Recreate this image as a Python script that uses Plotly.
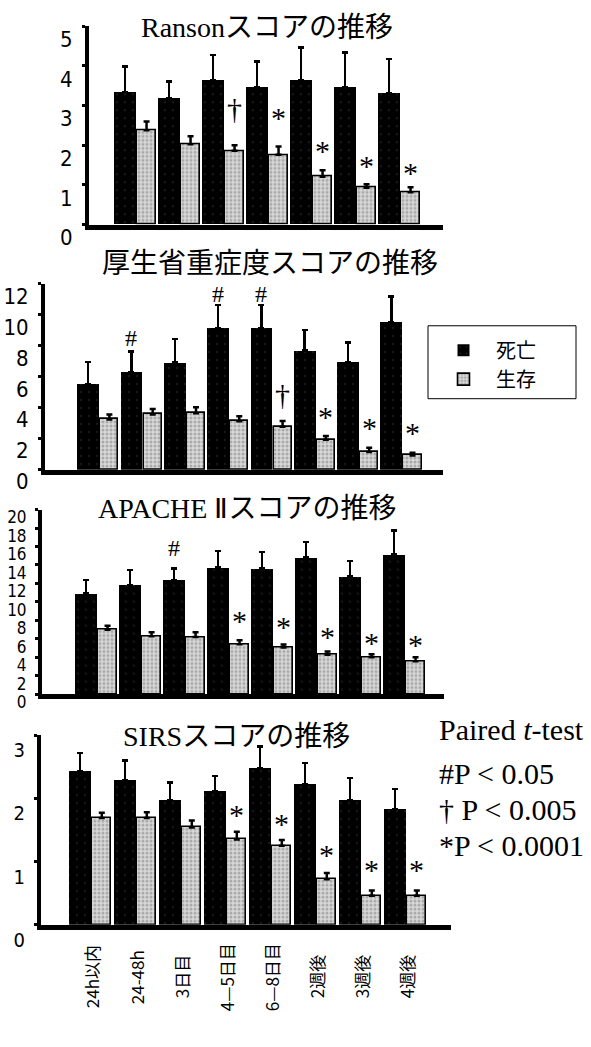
import plotly.graph_objects as go

W, H = 591, 1047

# ---------------- data ----------------
categories = ["24h以内", "24-48h", "3日目", "4—5日目", "6—8日目", "2週後", "3週後", "4週後"]

ranson_dead = [None, 3.34, 3.19, 3.64, 3.47, 3.64, 3.46, 3.31]
ranson_dead_sd = [0, 0.65, 0.42, 0.64, 0.64, 0.83, 0.88, 0.87]
ranson_surv = [None, 2.38, 2.03, 1.86, 1.76, 1.21, 0.93, 0.82]
ranson_surv_sd = [0, 0.22, 0.20, 0.14, 0.21, 0.16, 0.09, 0.12]
ranson_dead_sig = ["", "", "", "", "", "", "", ""]
ranson_dead_sig_y = [None] * 8
ranson_surv_sig = ["", "", "", "†", "*", "*", "*", "*"]
ranson_surv_sig_y = [None, None, None, 2.92, 2.87, 2.05, 1.68, 1.48]

mhlw_dead = [5.54, 6.29, 6.92, 9.13, 9.13, 7.70, 6.96, 9.52]
mhlw_dead_sd = [1.42, 1.35, 1.51, 1.51, 1.51, 1.32, 1.26, 1.68]
mhlw_surv = [3.25, 3.57, 3.65, 3.13, 2.77, 1.93, 1.15, 0.92]
mhlw_surv_sd = [0.32, 0.35, 0.38, 0.33, 0.38, 0.25, 0.26, 0.17]
mhlw_dead_sig = ["", "#", "", "#", "#", "", "", ""]
mhlw_dead_sig_y = [None, 8.54, None, 11.35, 11.35, None, None, None]
mhlw_surv_sig = ["", "", "", "", "†", "*", "*", "*"]
mhlw_surv_sig_y = [None, None, None, None, 4.87, 3.92, 3.19, 2.87]

apache_dead = [10.91, 11.85, 12.38, 13.71, 13.60, 14.83, 12.76, 15.17]
apache_dead_sd = [1.47, 1.58, 1.22, 1.81, 1.78, 1.67, 1.65, 2.56]
apache_surv = [6.99, 6.29, 6.19, 5.42, 5.07, 4.27, 4.02, 3.57]
apache_surv_sd = [0.42, 0.42, 0.52, 0.42, 0.31, 0.35, 0.32, 0.45]
apache_dead_sig = ["", "", "#", "", "", "", "", ""]
apache_dead_sig_y = [None, None, 15.8, None, None, None, None, None]
apache_surv_sig = ["", "", "", "*", "*", "*", "*", "*"]
apache_surv_sig_y = [None, None, None, 8.75, 8.06, 7.01, 6.32, 6.15]

sirs_dead = [2.43, 2.29, 1.97, 2.11, 2.48, 2.22, 1.97, 1.83]
sirs_dead_sd = [0.29, 0.31, 0.28, 0.24, 0.34, 0.34, 0.35, 0.32]
sirs_surv = [1.69, 1.69, 1.54, 1.35, 1.25, 0.72, 0.46, 0.46]
sirs_surv_sd = [0.08, 0.09, 0.11, 0.12, 0.09, 0.10, 0.08, 0.08]
sirs_dead_sig = [""] * 8
sirs_dead_sig_y = [None] * 8
sirs_surv_sig = ["", "", "", "*", "*", "*", "*", "*"]
sirs_surv_sig_y = [None, None, None, 1.86, 1.72, 1.22, 0.98, 0.98]

ranson_ticks = [0, 1, 2, 3, 4, 5]
mhlw_ticks = [0, 2, 4, 6, 8, 10, 12]
apache_ticks = [0, 2, 4, 6, 8, 10, 12, 14, 16, 18, 20]
sirs_ticks = [0, 1, 2, 3]

series_names = ["死亡", "生存"]
pvalue_lines = ["Paired <i>t</i>-test", "#P < 0.05", "† P < 0.005", "*P < 0.0001"]

titles = [
    '<span style="font-family:Liberation Serif">Ranson</span>スコアの推移',
    "厚生省重症度スコアの推移",
    '<span style="font-family:Liberation Serif">APACHE Ⅱ</span>スコアの推移',
    '<span style="font-family:Liberation Serif">SIRS</span>スコアの推移',
]

# ---------------- layout helpers ----------------
def fx(p):
    return p / W


def fy(p):
    return 1 - p / H


idx = list(range(len(categories)))

panels = [
    dict(dead=ranson_dead, dsd=ranson_dead_sd, surv=ranson_surv, ssd=ranson_surv_sd,
         dsig=ranson_dead_sig, dsy=ranson_dead_sig_y, ssig=ranson_surv_sig, ssy=ranson_surv_sig_y,
         ticks=ranson_ticks, ymax=5, xpix=(89, 443), ypix=(229, 25), c0=92, step=44,
         tfont=22, tshift=13, title_xy=(267, 24)),
    dict(dead=mhlw_dead, dsd=mhlw_dead_sd, surv=mhlw_surv, ssd=mhlw_surv_sd,
         dsig=mhlw_dead_sig, dsy=mhlw_dead_sig_y, ssig=mhlw_surv_sig, ssy=mhlw_surv_sig_y,
         ticks=mhlw_ticks, ymax=12, xpix=(45, 443), ypix=(481, 290), c0=99, step=43.3,
         tfont=22, tshift=12, title_xy=(270, 266)),
    dict(dead=apache_dead, dsd=apache_dead_sd, surv=apache_surv, ssd=apache_surv_sd,
         dsig=apache_dead_sig, dsy=apache_dead_sig_y, ssig=apache_surv_sig, ssy=apache_surv_sig_y,
         ticks=apache_ticks, ymax=20, xpix=(42, 444), ypix=(712, 522), c0=97, step=44,
         tfont=17, tshift=8, title_xy=(247, 518)),
    dict(dead=sirs_dead, dsd=sirs_dead_sd, surv=sirs_surv, ssd=sirs_surv_sd,
         dsig=sirs_dead_sig, dsy=sirs_dead_sig_y, ssig=sirs_surv_sig, ssy=sirs_surv_sig_y,
         ticks=sirs_ticks, ymax=3, xpix=(41, 451), ypix=(949, 754), c0=91, step=45,
         tfont=20, tshift=15, title_xy=(236, 753)),
]

NARROW = "Liberation Sans Narrow, DejaVu Sans Condensed, Arial Narrow, Liberation Sans"
JP = "Noto Sans CJK JP"
SERIF = "Liberation Serif"

fig = go.Figure()
annotations = []
layout_axes = {}

for k, p in enumerate(panels, start=1):
    xa = "x" if k == 1 else f"x{k}"
    ya = "y" if k == 1 else f"y{k}"
    xkey = "xaxis" if k == 1 else f"xaxis{k}"
    ykey = "yaxis" if k == 1 else f"yaxis{k}"
    x0p, x1p = p["xpix"]
    xr = [(x0p - p["c0"]) / p["step"], (x1p - p["c0"]) / p["step"]]

    fig.add_trace(go.Bar(
        x=idx, y=p["dead"], offset=-0.5, width=0.5, xaxis=xa, yaxis=ya,
        name=series_names[0], legendgroup="d", showlegend=(k == 2),
        marker=dict(color="black",
                    pattern=dict(shape=".", fgcolor="#3a3a3a", bgcolor="black", size=8, solidity=0.06),
                    line=dict(width=0)),
        error_y=dict(type="data", symmetric=False, array=p["dsd"], arrayminus=[0] * 8,
                     color="black", thickness=2.5, width=3),
    ))
    fig.add_trace(go.Bar(
        x=idx, y=p["surv"], offset=0.03, width=0.42, xaxis=xa, yaxis=ya,
        name=series_names[1], legendgroup="s", showlegend=(k == 2),
        marker=dict(color="#c0c0c0",
                    pattern=dict(shape=".", fgcolor="#7a7a7a", bgcolor="#d8d8d8", size=4, solidity=0.45),
                    line=dict(width=1.6, color="black")),
        error_y=dict(type="data", symmetric=False, array=p["ssd"], arrayminus=[0] * 8,
                     color="black", thickness=2.5, width=3),
    ))

    layout_axes[xkey] = dict(
        domain=[fx(x0p), fx(x1p)], range=xr, anchor=ya, showline=True, linewidth=5,
        linecolor="black", showticklabels=False, ticks="", showgrid=False, zeroline=False,
        fixedrange=True,
    )
    y0p, y1p = p["ypix"]
    layout_axes[ykey] = dict(
        domain=[fy(y0p), fy(y1p)], range=[0, p["ymax"]], anchor=xa, showline=True,
        linewidth=4, linecolor="black", ticks="outside", ticklen=3, tickwidth=3,
        tickcolor="black", tickmode="array", tickvals=p["ticks"],
        tickfont=dict(family=NARROW, size=p["tfont"], color="black"),
        ticklabelshift=p["tshift"], ticklabelstandoff=5,
        showgrid=False, zeroline=False, fixedrange=True,
    )

    # title
    tx, ty = p["title_xy"]
    annotations.append(dict(text=titles[k - 1], x=fx(tx), y=fy(ty), xref="paper", yref="paper",
                            xanchor="center", yanchor="middle", showarrow=False,
                            font=dict(family=JP, size=28, color="black")))

    # significance marks
    for i in idx:
        if p["dsig"][i]:
            annotations.append(dict(text=p["dsig"][i], x=i - 0.25, y=p["dsy"][i], xref=xa, yref=ya,
                                    xanchor="center", yanchor="middle", showarrow=False,
                                    font=dict(family=SERIF, size=24, color="black")))
        if p["ssig"][i]:
            sym = p["ssig"][i]
            annotations.append(dict(text=sym, x=i + 0.24, y=p["ssy"][i], xref=xa, yref=ya,
                                    xanchor="center", yanchor="middle", showarrow=False,
                                    yshift=(-7 if sym == "*" else 0),
                                    font=dict(family=SERIF, size=30, color="black")))

# category labels under the bottom panel
for i in idx:
    annotations.append(dict(text=categories[i], x=i, y=fy(1003), xref="x4", yref="paper",
                            textangle=-90, xanchor="center", yanchor="middle", showarrow=False,
                            font=dict(family=JP, size=17, color="black")))

# p-value legend text
for line, yy in zip(pvalue_lines, [748, 793, 831, 868]):
    annotations.append(dict(text=line, x=fx(437), y=fy(yy), xref="paper", yref="paper",
                            xanchor="left", yanchor="middle", showarrow=False,
                            font=dict(family=SERIF, size=30, color="black")))

# frame around the series legend
legend_frame = dict(type="rect", xref="paper", yref="paper",
                    x0=fx(428), x1=fx(576), y0=fy(408), y1=fy(333),
                    line=dict(color="black", width=1), fillcolor="rgba(0,0,0,0)", layer="above")

fig.update_layout(
    width=W, height=H, margin=dict(l=0, r=0, t=0, b=0),
    paper_bgcolor="white", plot_bgcolor="white",
    barmode="overlay", bargap=0,
    showlegend=True,
    legend=dict(x=fx(431), y=fy(338), xanchor="left", yanchor="top",
                borderwidth=0, bgcolor="rgba(0,0,0,0)",
                font=dict(family=JP, size=20, color="black"),
                itemwidth=55, traceorder="normal", tracegroupgap=7),
    annotations=annotations,
    shapes=[legend_frame],
    **layout_axes,
)

fig.write_html("out.html")
